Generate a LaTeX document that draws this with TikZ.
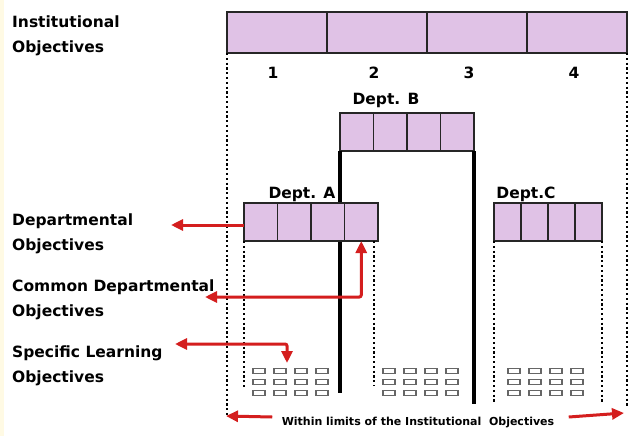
\documentclass[tikz,border=0pt]{standalone}
\usepackage{fontspec}
\setmainfont{DejaVu Sans}
\usetikzlibrary{arrows.meta,positioning}

\definecolor{objfill}{RGB}{224,194,230}
\definecolor{arrowred}{RGB}{212,30,30}
\definecolor{paper}{RGB}{255,250,228}

\begin{document}
\begin{tikzpicture}[x=1pt, y=-1pt,
    font=\fontsize{15.5}{25}\selectfont\bfseries,
    >={Triangle[length=12pt,width=11pt]},
    cellbase/.style={draw=black!85, line width=1.2pt, fill=objfill,
        inner sep=0pt, outer sep=0pt},
    instcell/.style={cellbase, minimum width=100pt, minimum height=41pt},
    deptcell/.style={cellbase, minimum width=33.5pt, minimum height=38pt},
    ccell/.style={cellbase, minimum width=27pt, minimum height=38pt},
    lbl/.style={anchor=north west, align=left, inner sep=0pt},
    dotline/.style={line width=2.4pt, dash pattern=on 2.2pt off 2.6pt},
    deptline/.style={line width=3.2pt},
    redarrow/.style={draw=arrowred, line width=3pt, rounded corners=2pt},
    slobox/.style={draw=black!60, line width=1.4pt, fill=white,
        minimum width=12pt, minimum height=5.5pt, inner sep=0pt}]

    % === PAGE ===
    \useasboundingbox (0,0) rectangle (630,436);
    \fill[white] (0,0) rectangle (630,436);
    \fill[paper] (0,0) rectangle (4,436);

    % === INSTITUTIONAL OBJECTIVES ===
    \node[instcell, anchor=north west] (io1) at (227,12) {};
    \node[instcell, right=0pt of io1] (io2) {};
    \node[instcell, right=0pt of io2] (io3) {};
    \node[instcell, right=0pt of io3] (io4) {};
    \node[anchor=base] (num1) at (273,79) {1};
    \node[anchor=base] (num2) at (374,79) {2};
    \node[anchor=base] (num3) at (469,79) {3};
    \node[anchor=base] (num4) at (574,79) {4};
    \draw[dotline] (io1.south west) -- ++(0,362);
    \draw[dotline] (io4.south east) -- ++(0,355);

    % === DEPT. B ===
    \node[anchor=base] (dbname) at (386,105) {Dept. B};
    \node[deptcell, anchor=north west] (db1) at (340,113) {};
    \node[deptcell, right=0pt of db1] (db2) {};
    \node[deptcell, right=0pt of db2] (db3) {};
    \node[deptcell, right=0pt of db3] (db4) {};
    \draw[deptline] (db1.south west) -- ++(0,242);
    \draw[deptline] (db4.south east) -- ++(0,253);

    % === DEPT. A ===
    \node[anchor=base] (daname) at (302,198) {Dept. A};
    \node[deptcell, anchor=north west] (da1) at (244,203) {};
    \node[deptcell, right=0pt of da1] (da2) {};
    \node[deptcell, right=0pt of da2] (da3) {};
    \node[deptcell, right=0pt of da3] (da4) {};
    \draw[dotline] (da1.south west) -- ++(0,147);
    \draw[dotline] ([xshift=-4pt]da4.south east) -- ++(0,145);

    % === DEPT. C ===
    \node[anchor=base] (dcname) at (526,198) {Dept.C};
    \node[ccell, anchor=north west] (dc1) at (494,203) {};
    \node[ccell, right=0pt of dc1] (dc2) {};
    \node[ccell, right=0pt of dc2] (dc3) {};
    \node[ccell, right=0pt of dc3] (dc4) {};
    \draw[dotline] (dc1.south west) -- ++(0,162);
    \draw[dotline] (dc4.south east) -- ++(0,162);

    % === SPECIFIC LEARNING OBJECTIVES ===
    \foreach \g/\gx in {a/259, b/389, c/514} {
        \foreach \c in {0,...,3} {
            \foreach \r/\ry in {1/371, 2/382, 3/393} {
                \node[slobox] (slo\g\c\r) at ({\gx+21*\c},\ry) {};
            }
        }
    }

    % === LEFT LABELS ===
    \node[lbl] (instlbl) at (12,15.2) {Institutional\\Objectives};
    \node[lbl] (deptlbl) at (12,213.2) {Departmental\\Objectives};
    \node[lbl] (commlbl) at (12,279.2) {Common Departmental\\Objectives};
    \node[lbl] (speclbl) at (12,345.2) {Specific Learning\\Objectives};

    % === RED ARROWS ===
    \coordinate (deptTip) at (171,225);
    \coordinate (commTip) at (205,297);
    \coordinate (specTip) at (175,344);
    \coordinate (specDown) at (287,363);
    \draw[redarrow, ->] ([yshift=-3pt]da1.west) -- (deptTip);
    \draw[redarrow, <->] (commTip) -| (da4.south);
    \draw[redarrow, <->] (specTip) -| (specDown);

    % === LIMITS ===
    \node[anchor=base, font=\fontsize{11}{13}\selectfont\bfseries] (limits) at (418,425)
        {Within limits of the Institutional~~Objectives};
    \coordinate (limLeft) at (226,416);
    \coordinate (limRight) at (624,413);
    \draw[redarrow, ->] ([xshift=-6pt,yshift=5pt]limits.west) -- (limLeft);
    \draw[redarrow, ->] ([xshift=11pt,yshift=5pt]limits.east) -- (limRight);

\end{tikzpicture}
\end{document}
